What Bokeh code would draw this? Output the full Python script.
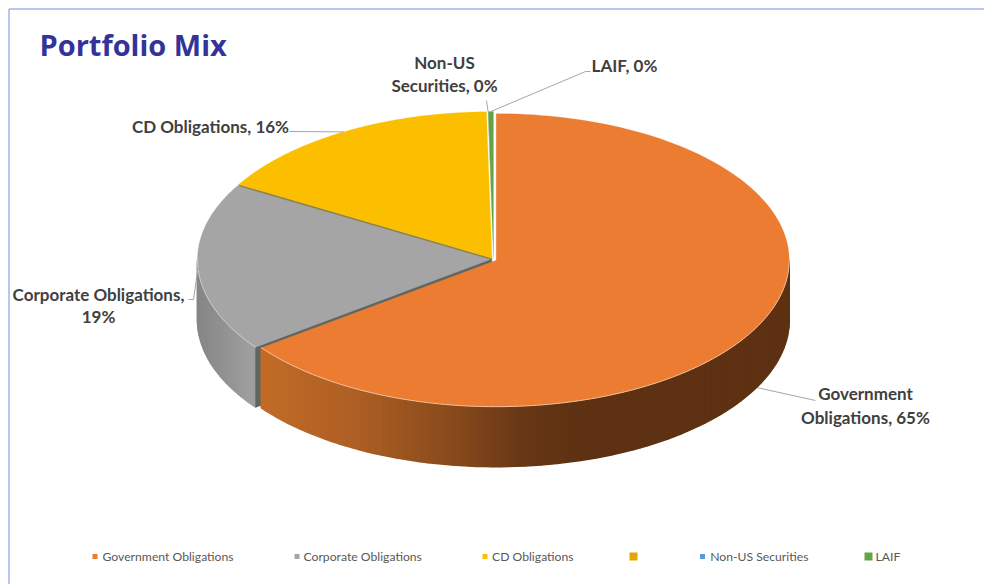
import numpy as np
from bokeh.plotting import figure, ColumnDataSource
from bokeh.core.properties import value
from bokeh.embed import file_html
from bokeh.resources import INLINE

# ---- data
categories = ["Government Obligations", "Corporate Obligations", "CD Obligations", "", "Non-US Securities", "LAIF"]
shares = [64.8, 18.6, 16.3, 0.0, 0.02, 0.28]
top_colors = ["#EB7C31", "#A5A5A5", "#FCBF00", "#E0A800", "#5B9BD5", "#66A343"]
cut_colors = ["#8A4A1D", "#5F6660", "#8E8347", "#8E8347", "#3B6A92", "#3F6B2A"]
label_lines = [["Government", "Obligations, 65%"], ["Corporate Obligations,", "19%"],
               ["CD Obligations, 16%"], [], ["Non-US", "Securities, 0%"], ["LAIF, 0%"]]

# side shading stops (page x, colour channels)
orange_x = [259, 350, 450, 520, 570, 789]
orange_r = [194, 175, 138, 105, 94, 94]
orange_g = [108, 96, 75, 56, 50, 49]
orange_b = [40, 36, 28, 22, 19, 18]
gray_x = [197, 254]
gray_v = [134, 160]

# ---- layout
CX, CY, R, RY, DEPTH, EXPLODE = 493.0, 259.0, 293.0, 146.5, 60.0, 3.0
FONT = value("Lato")
INK = "#404040"

p = figure(width=984, height=584, x_range=(0, 984), y_range=(584, 0), output_backend="svg",
           toolbar_location=None, min_border=0, outline_line_color=None,
           background_fill_color="white", border_fill_color="white")
p.axis.visible = False
p.grid.visible = False

# slice angles (clockwise from 12 o'clock)
total = sum(shares)
ends = np.cumsum(shares) / total * 2 * np.pi
starts = np.concatenate([[0.0], ends[:-1]])
mids = (starts + ends) / 2
off_x = EXPLODE * np.sin(mids)
off_y = -EXPLODE * 0.5 * np.cos(mids)


def rim(i, t):
    return CX + off_x[i] + R * np.sin(t), CY + off_y[i] - RY * np.cos(t)


def apex(i):
    return CX + off_x[i], CY + off_y[i]


def top_poly(i):
    t = np.linspace(starts[i], ends[i], 160)
    x, y = rim(i, t)
    ax, ay = apex(i)
    return [ax, *x], [ay, *y]


def cut_poly(i, t):
    x, y = rim(i, t)
    ax, ay = apex(i)
    return [x, ax, ax, x], [y, ay, ay + DEPTH, y + DEPTH]


def side_strips(i, t0, t1, n, colour_at):
    xs, ys, cs = [], [], []
    t = np.linspace(t0, t1, n + 1)
    for a, b in zip(t[:-1], t[1:]):
        xa, ya = rim(i, a)
        xb, yb = rim(i, b)
        xs.append([xa, xb, xb, xa])
        ys.append([ya, yb, yb + DEPTH, ya + DEPTH])
        cs.append(colour_at((xa + xb) / 2))
    return xs, ys, cs


def orange_colour(x):
    return "#%02x%02x%02x" % (int(np.interp(x, orange_x, orange_r)),
                              int(np.interp(x, orange_x, orange_g)),
                              int(np.interp(x, orange_x, orange_b)))


def gray_colour(x):
    v = int(np.interp(x, gray_x, gray_v))
    return "#%02x%02x%02x" % (v, v, v)


# frame: left and top rules
p.segment(x0=[8.5, 8.5], y0=[8.5, 8.5], x1=[8.5, 984], y1=[584, 8.5], line_color="#6F94DC", line_width=1)

# cut faces seen through the gaps
for i in (2, 1):
    x, y = cut_poly(i, starts[i])
    p.patch(x, y, fill_color=cut_colors[i], line_color=cut_colors[i], line_width=0.5)

# rim walls
xs, ys, cs = side_strips(1, np.pi * 1.5, starts[1], 30, gray_colour)
p.patches(xs="xs", ys="ys", fill_color="c", line_color="c", line_width=1.6,
          source=ColumnDataSource(dict(xs=xs, ys=ys, c=cs)))
x, y = cut_poly(1, starts[1])
p.patch(x, y, fill_color=cut_colors[1], line_color=cut_colors[1], line_width=0.5)
xs, ys, cs = side_strips(0, np.pi / 2, ends[0], 90, orange_colour)
p.patches(xs="xs", ys="ys", fill_color="c", line_color="c", line_width=1.6,
          source=ColumnDataSource(dict(xs=xs, ys=ys, c=cs)))

# top faces
for i in (1, 2, 4, 5, 0):
    if shares[i] > 0:
        x, y = top_poly(i)
        p.patch(x, y, fill_color=top_colors[i], line_color=top_colors[i], line_width=0.2 if i != 4 else 0)

# light bevel along the front rims
t = np.linspace(np.pi / 2, ends[0], 120)
x, y = rim(0, t)
p.line(x, y, line_color="#F3C29E", line_width=1)
t = np.linspace(starts[1], np.pi * 1.5, 60)
x, y = rim(1, t)
p.line(x, y, line_color="#D2D2D2", line_width=1)

# leader lines start where each slice's mid-angle meets its rim
lead_start = {i: rim(i, mids[i]) for i in (0, 1, 2, 4, 5)}
lead_x = [
    [lead_start[0][0], 815],
    [lead_start[1][0], 193, 188],
    [lead_start[2][0], 289],
    [lead_start[4][0], 486],
    [lead_start[5][0], 585, 590],
]
lead_y = [
    [lead_start[0][1] + DEPTH + 2, 400],
    [lead_start[1][1], 299, 299],
    [lead_start[2][1], 131],
    [lead_start[4][1], 100],
    [lead_start[5][1], 71, 71],
]
p.multi_line(xs=lead_x, ys=lead_y, line_color="#A6A6A6", line_width=1)

# data labels
label_y = [[393, 417], [294, 316], [126], [62, 85], [65]]
label_x_lines = [[865, 865], [98, 98], [210], [444, 444], [624]]
tx, ty, tt = [], [], []
for lines, xl, yl in zip([l for l in label_lines if l], label_x_lines, label_y):
    tx += xl
    ty += yl
    tt += lines
p.text(x=tx, y=ty, text=tt, text_font=FONT, text_font_style="bold", text_font_size="17px",
       text_color=INK, text_align="center", text_baseline="middle")

# title
p.text(x=[39], y=[44], text=["Portfolio Mix"], text_font=value("Open Sans"), text_font_style="bold",
       text_font_size="29px", text_color="#333399", text_align="left", text_baseline="middle")

# legend
mark_x = [94.5, 296.5, 484.5, 633, 702, 868]
mark_s = [5, 5, 5, 8, 5, 8]
text_x = [102, 303, 491.5, 660, 709.7, 875]
p.scatter(x=mark_x, y=[556] * 6, size=mark_s, marker="square", fill_color=top_colors, line_color=None)
p.text(x=text_x, y=[555.5] * 6, text=categories, text_font=FONT, text_font_size="12.2px", text_color="#595959",
       text_align="left", text_baseline="middle")

open("out.html", "w").write(file_html(p, INLINE))
